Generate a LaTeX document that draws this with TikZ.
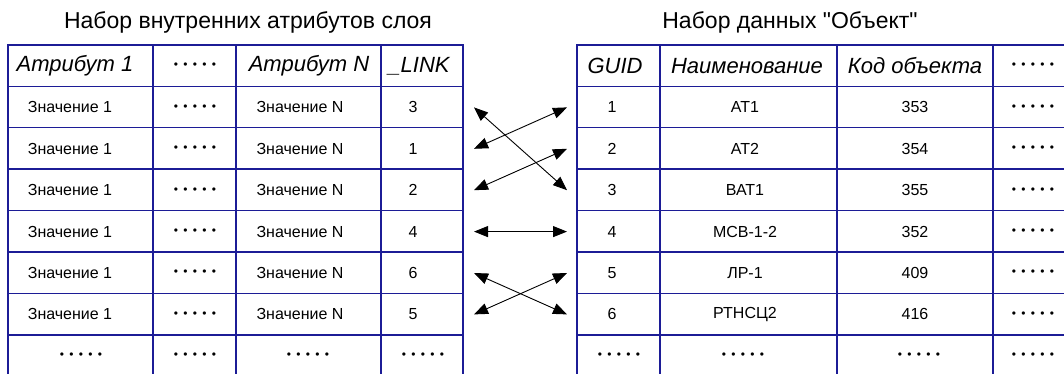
\documentclass[tikz,border=0pt]{standalone}
\usepackage{fontspec}
\setmainfont{Liberation Sans}
\usepackage{xcolor}
\usetikzlibrary{arrows.meta}
\definecolor{gridnavy}{RGB}{28,28,150}
\newcommand{\dts}{{\fontsize{12}{14}\selectfont •\kern5.3pt•\kern5.3pt•\kern5.3pt•\kern5.3pt•}}

\begin{document}
\begin{tikzpicture}[
    x=1pt, y=-1pt,
    >={Triangle[length=14pt,width=11pt]},
    ln/.style={line width=1.4pt,line cap=rect,gridnavy},
    ttl/.style={font=\fontsize{23}{26}\selectfont},
    hd/.style={font=\fontsize{22}{25}\selectfont\itshape},
    val/.style={font=\fontsize{16}{19}\selectfont},
    lnk/.style={<->,line width=0.9pt,black},
  ]
  \useasboundingbox (0,0) rectangle (1064,374);
  \clip (0,0) rectangle (1064,374);
  \def\rh{41.4}

  % -- titles --
  \node[ttl] (tleft) at (248,22) {Набор внутренних атрибутов слоя};
  \node[ttl] (tright) at (790,22) {Набор данных \textquotedbl Объект\textquotedbl};

  % -- grid of the two tables --
  \foreach \k in {0,...,7} {
    \draw[ln] (8,45+\rh*\k) -- (463,45+\rh*\k);
    \draw[ln] (577,45+\rh*\k) -- (1080,45+\rh*\k);
  }
  \foreach \x in {8,153,236,381,463,577,660,837,993}
    \draw[ln] (\x,45) -- (\x,390);

  % -- headers --
  \node[hd] (h1) at (75,66) {Атрибут 1};
  \node[val] (h2) at (195,66) {\dts};
  \node[hd] (h3) at (309,66) {Атрибут N};
  \node[hd] (h4) at (419,66) {\_LINK};
  \node[hd] (h5) at (615,66) {GUID};
  \node[hd] (h6) at (747,66) {Наименование};
  \node[hd] (h7) at (915,66) {Код объекта};
  \node[val] (h8) at (1033,66) {\dts};

  % -- rows: attributes of the layer / the "object" data set --
  \foreach \lk/\nm/\cd [count=\i] in
      {3/АТ1/353, 1/АТ2/354, 2/ВАТ1/355, 4/МСВ-1-2/352, 6/ЛР-1/409, 5/РТНСЦ2/416} {
    \pgfmathsetmacro{\yc}{66+\rh*\i}
    \node[val] (va\i) at (70,\yc) {Значение 1};
    \node[val] (dl\i) at (195,\yc) {\dts};
    \node[val] (vn\i) at (300,\yc) {Значение N};
    \node[val] (lk\i) at (413,\yc) {\lk};
    \node[val] (gd\i) at (612,\yc) {\i};
    \node[val] (nm\i) at (745,\yc) {\nm};
    \node[val] (cd\i) at (915,\yc) {\cd};
    \node[val] (dr\i) at (1033,\yc) {\dts};
    \coordinate (pl\i) at (474,\yc);
    \coordinate (pr\i) at (567,\yc);
  }

  % -- last row, only dots --
  \pgfmathsetmacro{\yc}{66+\rh*7}
  \foreach \x [count=\j] in {81,195,308,423,619,743,919,1033}
    \node[val] (dd\j) at (\x,\yc) {\dts};

  % -- links from _LINK to GUID --
  \draw[lnk] (pl1) -- (pr3);
  \draw[lnk] (pl2) -- (pr1);
  \draw[lnk] (pl3) -- (pr2);
  \draw[lnk] (pl4) -- (pr4);
  \draw[lnk] (pl5) -- (pr6);
  \draw[lnk] (pl6) -- (pr5);
\end{tikzpicture}
\end{document}
